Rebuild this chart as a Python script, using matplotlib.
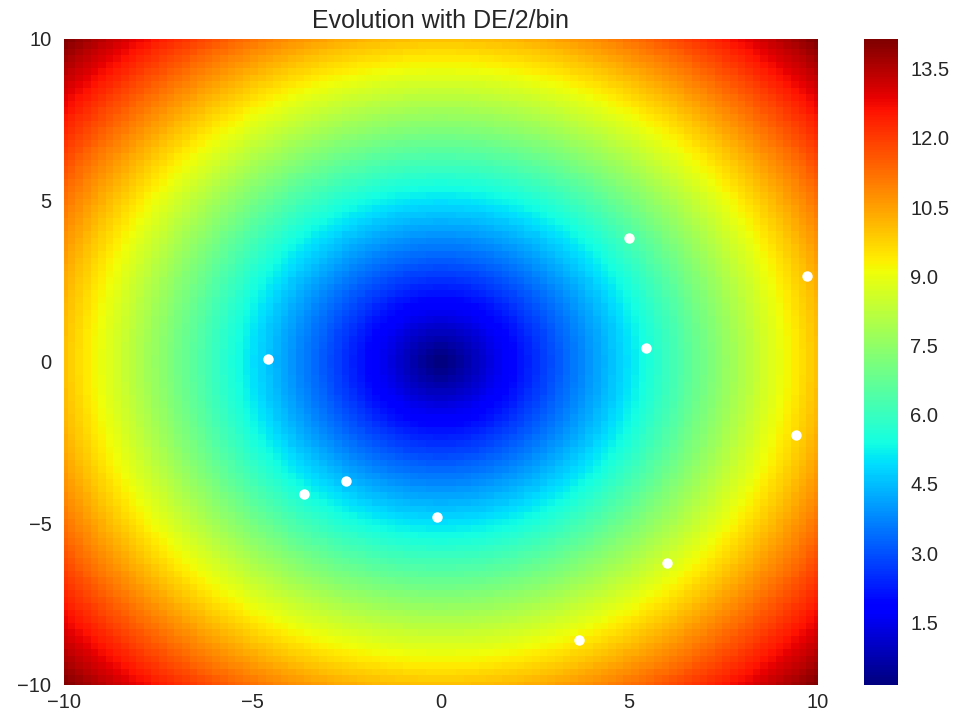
import numpy as np
import matplotlib
matplotlib.use("Agg")
import matplotlib.pyplot as plt

plt.rcParams['font.family'] = ['Liberation Sans', 'DejaVu Sans']
plt.rcParams['axes.unicode_minus'] = True

# search domain and grid resolution
bounds = (-10, 10)
n_grid = 100

# population after the final generation
pop_x = [4.99, 9.71, 5.44, -4.59, 9.42, -3.63, -2.52, -0.11, 6.00, 3.66]
pop_y = [3.84, 2.66, 0.43, 0.09, -2.26, -4.09, -3.68, -4.80, -6.22, -8.61]

cbar_ticks = [1.5, 3.0, 4.5, 6.0, 7.5, 9.0, 10.5, 12.0, 13.5]
axis_ticks = [-10, -5, 0, 5, 10]

# objective: euclidean norm
x = np.linspace(bounds[0], bounds[1], n_grid)
y = np.linspace(bounds[0], bounds[1], n_grid)
X, Y = np.meshgrid(x, y)
Z = np.sqrt(X ** 2 + Y ** 2)

fig = plt.figure(figsize=(9.54, 7.21), dpi=100)
ax = fig.add_axes([0.067, 0.050, 0.790, 0.896])
cax = fig.add_axes([0.906, 0.050, 0.035, 0.896])

mesh = ax.pcolormesh(X, Y, Z, cmap='jet', shading='nearest')
ax.plot(pop_x, pop_y, 'o', color='white', markersize=7.5, markeredgewidth=0)

ax.set_xlim(bounds)
ax.set_ylim(bounds)
ax.set_xticks(axis_ticks)
ax.set_yticks(axis_ticks)
ax.tick_params(length=0, labelsize=14.5, labelcolor='#262626')
ax.tick_params(axis='y', pad=9)
ax.tick_params(axis='x', pad=6)
for s in ax.spines.values():
    s.set_visible(False)
ax.set_title("Evolution with DE/2/bin", fontsize=18, color='#262626', pad=8)

cb = fig.colorbar(mesh, cax=cax, ticks=cbar_ticks)
cb.outline.set_visible(False)
cb.ax.tick_params(length=0, pad=9, labelsize=14.5, labelcolor='#262626')
cb.ax.set_yticklabels(["%.1f" % t for t in cbar_ticks])

fig.savefig("out.png", dpi=100, facecolor='white')
